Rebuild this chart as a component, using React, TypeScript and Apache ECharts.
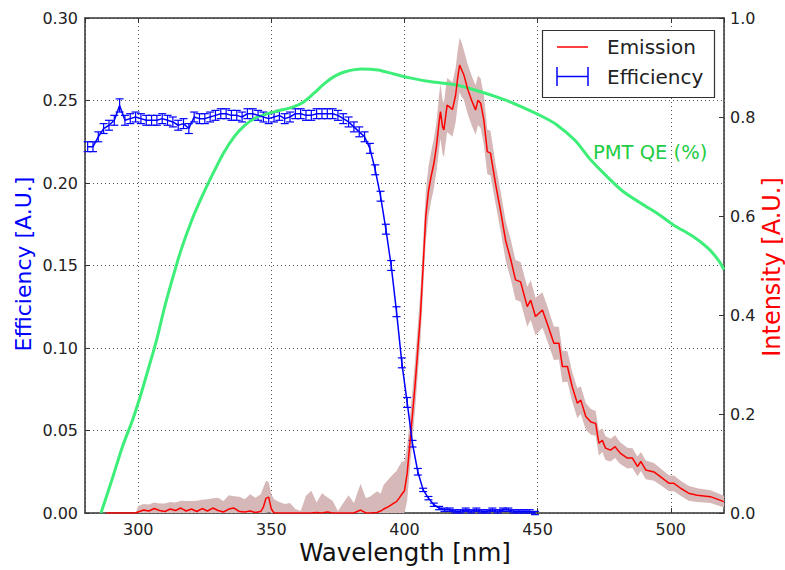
import React, { useEffect, useRef } from "react";
import * as echarts from "echarts";

const FONT = "DejaVu Sans";

// Efficiency (left axis)
const effWl = [281, 283, 285, 287, 289, 291, 293, 295, 297, 299, 301, 303, 305, 307, 309, 311, 313, 315, 317, 319, 321, 323, 325, 327, 329, 331, 333, 335, 337, 339, 341, 343, 345, 347, 349, 351, 353, 355, 357, 359, 361, 363, 365, 367, 369, 371, 373, 375, 377, 379, 381, 383, 385, 387, 389, 391, 393, 395, 397, 399, 401, 403, 405, 407, 409, 411, 413, 415, 417, 419, 421, 423, 425, 427, 429, 431, 433, 435, 437, 439, 441, 443, 445, 447, 449];
const effVal = [0.222, 0.222, 0.228, 0.233, 0.235, 0.238, 0.247, 0.238, 0.239, 0.240, 0.239, 0.238, 0.238, 0.238, 0.239, 0.238, 0.237, 0.235, 0.236, 0.233, 0.240, 0.239, 0.239, 0.240, 0.241, 0.242, 0.242, 0.241, 0.241, 0.240, 0.242, 0.242, 0.241, 0.240, 0.239, 0.240, 0.241, 0.239, 0.240, 0.242, 0.242, 0.241, 0.241, 0.242, 0.242, 0.242, 0.242, 0.241, 0.239, 0.237, 0.234, 0.231, 0.228, 0.221, 0.208, 0.192, 0.172, 0.150, 0.122, 0.091, 0.067, 0.042, 0.025, 0.014, 0.009, 0.005, 0.003, 0.002, 0.002, 0.001, 0.001, 0.002, 0.001, 0.002, 0.001, 0.001, 0.002, 0.001, 0.002, 0.002, 0.001, 0.001, 0.001, 0.001, 0.0];
const effErr = [0.003, 0.003, 0.003, 0.003, 0.003, 0.003, 0.004, 0.003, 0.003, 0.003, 0.003, 0.003, 0.003, 0.003, 0.003, 0.003, 0.003, 0.003, 0.003, 0.003, 0.003, 0.003, 0.003, 0.003, 0.003, 0.003, 0.003, 0.003, 0.003, 0.003, 0.003, 0.003, 0.003, 0.003, 0.003, 0.003, 0.003, 0.003, 0.003, 0.003, 0.003, 0.003, 0.003, 0.003, 0.003, 0.003, 0.003, 0.003, 0.003, 0.003, 0.003, 0.003, 0.003, 0.003, 0.003, 0.003, 0.003, 0.003, 0.003, 0.003, 0.003, 0.002, 0.002, 0.001, 0.001, 0.001, 0.001, 0.001, 0.001, 0.001, 0.001, 0.001, 0.001, 0.001, 0.001, 0.001, 0.001, 0.001, 0.001, 0.001, 0.001, 0.001, 0.001, 0.001, 0.001];

// Emission (right axis)
const emWl = [288, 292, 296, 299, 300, 302, 304, 306, 308, 310, 312, 314, 316, 318, 320, 322, 324, 326, 328, 330, 332, 334, 336, 338, 340, 342, 344, 346, 347, 348, 349, 350, 351, 353, 355, 357, 359, 361, 363, 365, 367, 369, 371, 373, 375, 377, 379, 381, 383.5, 385.5, 387, 389.7, 391, 392.2, 394, 396, 397, 398, 399, 400, 401, 402, 403, 404, 405, 406, 407, 408, 409, 410, 411, 412, 413, 413.5, 414.3, 414.8, 416, 417, 418, 419.2, 420, 420.7, 421.5, 422.3, 423.8, 425.4, 426.7, 427.6, 428.6, 429.8, 431.1, 432.3, 434.2, 436.1, 438, 440, 441.7, 443.6, 446.1, 447.4, 449.2, 451.8, 453.6, 456.1, 458, 459.3, 461.2, 463, 464.9, 466.2, 468.1, 470, 471.8, 473, 474.3, 475.5, 477.4, 479.1, 481, 483.7, 485.6, 487.5, 488.8, 490.6, 493.7, 496.2, 499.4, 501.2, 503.7, 506.7, 509.9, 514.9, 520];
const emVal = [0, 0, 0, 0, 0.002, 0.006, 0.004, 0.009, 0.005, 0.003, 0.008, 0.005, 0.01, 0.004, 0.008, 0.003, 0.009, 0.004, 0.01, 0.005, 0.002, 0.008, 0.01, 0.003, 0.002, 0.004, 0.001, 0.003, 0.012, 0.03, 0.032, 0.008, 0, 0, 0, 0, 0, 0, 0, 0, 0.001, 0, 0.002, 0, 0, 0, 0, 0, 0.006, 0, 0, 0.001, 0.004, 0.008, 0.013, 0.02, 0.023, 0.03, 0.038, 0.045, 0.08, 0.14, 0.2, 0.26, 0.33, 0.4, 0.5, 0.6, 0.65, 0.68, 0.705, 0.74, 0.79, 0.811, 0.78, 0.774, 0.824, 0.82, 0.815, 0.844, 0.88, 0.905, 0.895, 0.885, 0.855, 0.831, 0.814, 0.834, 0.828, 0.794, 0.73, 0.727, 0.665, 0.61, 0.55, 0.51, 0.471, 0.467, 0.417, 0.43, 0.397, 0.41, 0.383, 0.343, 0.343, 0.296, 0.296, 0.255, 0.222, 0.228, 0.195, 0.184, 0.181, 0.141, 0.147, 0.131, 0.127, 0.134, 0.121, 0.111, 0.111, 0.094, 0.104, 0.087, 0.083, 0.073, 0.06, 0.06, 0.05, 0.04, 0.036, 0.033, 0.023];
const emErr = [0, 0, 0, 0, 0.012, 0.012, 0.013, 0.012, 0.014, 0.016, 0.014, 0.016, 0.015, 0.02, 0.016, 0.022, 0.018, 0.024, 0.02, 0.026, 0.022, 0.028, 0.024, 0.03, 0.026, 0.034, 0.03, 0.035, 0.04, 0.035, 0.03, 0.03, 0.028, 0.022, 0.018, 0.02, 0.008, 0.004, 0.035, 0.045, 0.02, 0.04, 0.03, 0.025, 0.004, 0.02, 0.036, 0.02, 0.053, 0.03, 0.033, 0.043, 0.035, 0.049, 0.055, 0.06, 0.062, 0.065, 0.065, 0.06, 0.055, 0.05, 0.05, 0.05, 0.05, 0.05, 0.05, 0.05, 0.05, 0.05, 0.05, 0.05, 0.055, 0.055, 0.055, 0.055, 0.055, 0.055, 0.055, 0.055, 0.055, 0.055, 0.055, 0.05, 0.05, 0.05, 0.05, 0.05, 0.05, 0.05, 0.045, 0.045, 0.04, 0.04, 0.04, 0.04, 0.04, 0.04, 0.04, 0.04, 0.038, 0.036, 0.035, 0.034, 0.033, 0.032, 0.031, 0.03, 0.03, 0.028, 0.027, 0.026, 0.025, 0.025, 0.024, 0.024, 0.023, 0.023, 0.022, 0.021, 0.02, 0.02, 0.019, 0.019, 0.018, 0.017, 0.016, 0.016, 0.015, 0.015, 0.014, 0.013, 0.012];

// PMT QE (right axis)
const qeWl = [286, 290, 294, 298, 301, 304, 307, 310, 313, 316, 320, 324, 328, 332, 336, 340, 344, 348, 353, 358, 362, 366, 370, 374, 378, 384, 390, 396, 402, 410, 419, 428, 438, 445, 451, 457, 464, 470, 476, 482, 489, 495, 501, 508, 514, 518, 520];
const qeVal = [0, 0.065, 0.133, 0.19, 0.24, 0.295, 0.352, 0.418, 0.476, 0.53, 0.59, 0.64, 0.685, 0.727, 0.76, 0.783, 0.798, 0.806, 0.813, 0.82, 0.83, 0.848, 0.868, 0.883, 0.892, 0.897, 0.895, 0.887, 0.879, 0.871, 0.865, 0.852, 0.834, 0.818, 0.803, 0.785, 0.753, 0.713, 0.68, 0.65, 0.625, 0.605, 0.582, 0.56, 0.535, 0.51, 0.492];

const xTicksMin = 280;
const xTicksMax = 520;

export default function App() {
  const ref = useRef<HTMLDivElement>(null);
  useEffect(() => {
    if (!ref.current) return;
    const chart = echarts.init(ref.current, null, { renderer: "svg" });
    const effLine = effWl.map((x, i) => [x, effVal[i]]);
    const effBars = effWl.map((x, i) => [x, effVal[i] - effErr[i], effVal[i] + effErr[i]]);
    const bandData = emWl.map((x, i) => [x, Math.max(0, emVal[i] - emErr[i]), emVal[i] + emErr[i]]);
    const emLine = emWl.map((x, i) => [x, emVal[i]]);
    const qeLine = qeWl.map((x, i) => [x, qeVal[i]]);
    const axisLineStyle = { color: "#333", width: 1.5 };
    const labelStyle = { fontFamily: FONT, fontSize: 16, color: "#222" };
    const xCommon = {
      type: "value",
      min: xTicksMin,
      max: xTicksMax,
      splitNumber: 5,
      minInterval: 50,
      maxInterval: 50,
      axisLine: { show: true, onZero: false, lineStyle: axisLineStyle },
      axisTick: { show: true, inside: true, length: 5, lineStyle: { color: "#333" } },
    };
    chart.setOption({
      animation: false,
      grid: { left: 85, right: 61, top: 18, bottom: 57 },
      xAxis: [
        {
          ...xCommon,
          position: "bottom",
          axisLabel: { ...labelStyle, margin: 8, showMinLabel: false, showMaxLabel: false },
          splitLine: { show: true, lineStyle: { type: [1, 3], color: "#555", width: 1 } },
        },
        {
          ...xCommon,
          position: "top",
          axisLabel: { show: false },
          splitLine: { show: false },
        },
      ],
      yAxis: [
        {
          type: "value",
          position: "left",
          min: 0,
          max: 0.3,
          interval: 0.05,
          axisLine: { show: true, lineStyle: axisLineStyle },
          axisTick: { show: true, inside: true, length: 5, lineStyle: { color: "#333" } },
          axisLabel: { ...labelStyle, margin: 7, formatter: (v: number) => v.toFixed(2) },
          splitLine: { show: true, lineStyle: { type: [1, 3], color: "#555", width: 1 } },
        },
        {
          type: "value",
          position: "right",
          min: 0,
          max: 1,
          interval: 0.2,
          axisLine: { show: true, lineStyle: axisLineStyle },
          axisTick: { show: true, inside: true, length: 5, lineStyle: { color: "#333" } },
          axisLabel: { ...labelStyle, margin: 6, formatter: (v: number) => v.toFixed(1) },
          splitLine: { show: false },
        },
      ],
      series: [
        {
          type: "custom",
          name: "band",
          xAxisIndex: 0,
          yAxisIndex: 1,
          data: bandData,
          encode: { x: 0, y: [1, 2] },
          silent: true,
          renderItem: (params: any, api: any) => {
            if (params.dataIndex !== 0) return { type: "group", children: [] };
            const upper = bandData.map((d) => api.coord([d[0], d[2]]));
            const lower = bandData.map((d) => api.coord([d[0], d[1]])).reverse();
            return {
              type: "polygon",
              shape: { points: upper.concat(lower) },
              style: { fill: "#d7b8b8", stroke: "none" },
            };
          },
        },
        {
          type: "line",
          name: "PMT QE",
          xAxisIndex: 0,
          yAxisIndex: 1,
          data: qeLine,
          symbol: "none",
          smooth: 0.3,
          lineStyle: { color: "#3dee78", width: 3 },
        },
        {
          type: "line",
          name: "Emission",
          xAxisIndex: 0,
          yAxisIndex: 1,
          data: emLine,
          symbol: "none",
          lineStyle: { color: "#ff0000", width: 1.5 },
        },
        {
          type: "line",
          name: "Efficiency",
          xAxisIndex: 0,
          yAxisIndex: 0,
          data: effLine,
          symbol: "none",
          lineStyle: { color: "#0000ff", width: 1.5 },
        },
        {
          type: "custom",
          xAxisIndex: 0,
          yAxisIndex: 0,
          data: effBars,
          encode: { x: 0, y: [1, 2] },
          renderItem: (params: any, api: any) => {
            const x = api.value(0);
            const p1 = api.coord([x, api.value(1)]);
            const p2 = api.coord([x, api.value(2)]);
            const hw = 4;
            const st = { stroke: "#0000ff", lineWidth: 1.2 };
            return {
              type: "group",
              children: [
                { type: "line", shape: { x1: p1[0], y1: p1[1], x2: p2[0], y2: p2[1] }, style: st },
                { type: "line", shape: { x1: p1[0] - hw, y1: p1[1], x2: p1[0] + hw, y2: p1[1] }, style: st },
                { type: "line", shape: { x1: p2[0] - hw, y1: p2[1], x2: p2[0] + hw, y2: p2[1] }, style: st },
              ],
            };
          },
        },
      ],
      graphic: [
        {
          type: "rect",
          z: 100,
          shape: { x: 542.5, y: 30.5, width: 172, height: 67 },
          style: { fill: "#fff", stroke: "#333", lineWidth: 1.2 },
        },
        {
          type: "line",
          z: 101,
          shape: { x1: 557, y1: 47, x2: 588, y2: 47 },
          style: { stroke: "#ff0000", lineWidth: 1.5 },
        },
        {
          type: "text",
          z: 101,
          x: 607,
          y: 47,
          style: { text: "Emission", fontFamily: FONT, fontSize: 20, fill: "#222", verticalAlign: "middle", align: "left" },
        },
        {
          type: "line",
          z: 101,
          shape: { x1: 557, y1: 76.5, x2: 588, y2: 76.5 },
          style: { stroke: "#0000ff", lineWidth: 1.5 },
        },
        {
          type: "line",
          z: 101,
          shape: { x1: 557, y1: 67, x2: 557, y2: 86 },
          style: { stroke: "#0000ff", lineWidth: 1.5 },
        },
        {
          type: "line",
          z: 101,
          shape: { x1: 588, y1: 67, x2: 588, y2: 86 },
          style: { stroke: "#0000ff", lineWidth: 1.5 },
        },
        {
          type: "text",
          z: 101,
          x: 607,
          y: 76.5,
          style: { text: "Efficiency", fontFamily: FONT, fontSize: 20, fill: "#222", verticalAlign: "middle", align: "left" },
        },
        {
          type: "text",
          z: 101,
          x: 593,
          y: 152,
          style: { text: "PMT QE (%)", fontFamily: FONT, fontSize: 19.5, fill: "#22cc44", verticalAlign: "middle", align: "left" },
        },
        {
          type: "text",
          z: 101,
          x: 405,
          y: 552,
          style: { text: "Wavelength [nm]", fontFamily: FONT, fontSize: 24.5, fill: "#111", verticalAlign: "middle", align: "center" },
        },
        {
          type: "text",
          z: 101,
          x: 23,
          y: 264,
          rotation: Math.PI / 2,
          style: { text: "Efficiency [A.U.]", fontFamily: FONT, fontSize: 22, fill: "#0000ff", verticalAlign: "middle", align: "center" },
        },
        {
          type: "text",
          z: 101,
          x: 772,
          y: 267,
          rotation: Math.PI / 2,
          style: { text: "Intensity [A.U.]", fontFamily: FONT, fontSize: 24, fill: "#ff0000", verticalAlign: "middle", align: "center" },
        },
      ],
    });
    return () => chart.dispose();
  }, []);
  return (
    <div
      ref={ref}
      style={{ position: "absolute", left: 0, top: 0, width: 785, height: 570, background: "#fff" }}
    />
  );
}
